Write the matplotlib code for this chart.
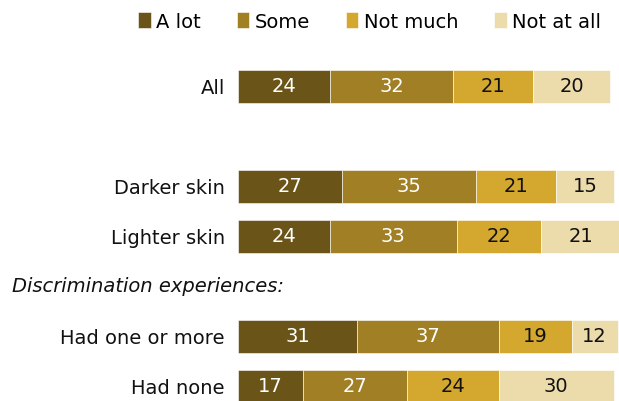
import matplotlib.pyplot as plt
import numpy as np

# Row labels and their vertical slots (slot 1 is empty, slot 4 holds the subheading)
labels = ['All', 'Darker skin', 'Lighter skin', 'Had one or more', 'Had none']
slots = [0, 2, 3, 5, 6]

series = ['A lot', 'Some', 'Not much', 'Not at all']
a_lot = [24, 27, 24, 31, 17]
some = [32, 35, 33, 37, 27]
not_much = [21, 21, 22, 19, 24]
not_at_all = [20, 15, 21, 12, 30]

colors = ['#6a5418', '#a07f25', '#d4a82f', '#ecdcac']
text_colors = ['white', 'white', '#111111', '#111111']

plt.rcParams['font.family'] = ['DejaVu Sans']
fs = 14

fig = plt.figure(figsize=(6.19, 4.02), dpi=100)
ax = fig.add_axes([238 / 619, -10 / 402, 383.5 / 619, 350 / 402])

left = np.zeros(len(labels))
for name, vals, col, tc in zip(series, [a_lot, some, not_much, not_at_all], colors, text_colors):
    vals = np.array(vals)
    bars = ax.barh(slots, vals, left=left, height=0.66, color=col, label=name,
                   edgecolor='white', linewidth=0.4)
    ax.bar_label(bars, labels=[str(v) for v in vals], label_type='center',
                 color=tc, fontsize=fs)
    left += vals

ax.set_xlim(0, 100)
ax.set_ylim(6.5, -0.5)
ax.set_yticks(slots)
ax.set_yticklabels(labels, fontsize=fs, color='#111111')
ax.tick_params(axis='y', length=0, pad=9.5)
ax.set_xticks([])
for s in ax.spines.values():
    s.set_visible(False)

# subheading row
fig.text(12 / 619, 1 - 287 / 402, 'Discrimination experiences:', style='italic',
         fontsize=fs, ha='left', va='center', color='#111111')

fig.legend(loc='center left', bbox_to_anchor=(138 / 619, 1 - 22 / 402), ncol=4,
           frameon=False, fontsize=fs, handlelength=0.65, handleheight=0.9,
           handletextpad=0.27, columnspacing=1.85, borderaxespad=0, borderpad=0)

fig.savefig('out.png', dpi=100)
